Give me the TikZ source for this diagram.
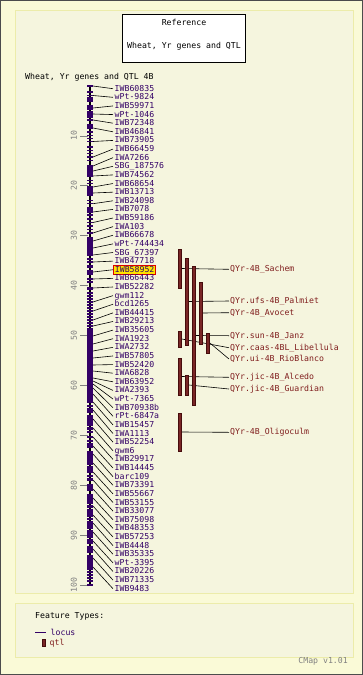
\documentclass[tikz,border=0pt]{standalone}
\usepackage{fontspec}
\setmonofont{DejaVu Sans Mono}
\usepackage{tikz}

\definecolor{pagebg}{RGB}{250,250,215}
\definecolor{panelbg}{RGB}{245,245,222}
\definecolor{panelrim}{RGB}{236,236,170}
\definecolor{locuscol}{RGB}{51,0,102}
\definecolor{qtlfill}{RGB}{122,38,38}
\definecolor{qtlrim}{RGB}{70,12,12}
\definecolor{qtltext}{RGB}{128,30,30}
\definecolor{hlfill}{RGB}{255,228,0}
\definecolor{hlrim}{RGB}{220,0,0}

\pgfdeclarelayer{bg}
\pgfsetlayers{bg,main}

\begin{document}
\begin{tikzpicture}[x=1pt, y=-1pt,
  every node/.style={font=\ttfamily\fontsize{8.2}{9}\selectfont, inner sep=1pt},
  lab/.style={anchor=west, text=locuscol, inner xsep=1.5pt, inner ysep=0.8pt,
              text height=6pt, text depth=1pt},
  hl/.style={fill=hlfill, draw=hlrim, line width=0.8pt},
  qlab/.style={anchor=west, text=qtltext, text height=6pt, text depth=1pt},
  qtlbar/.style={draw=qtlrim, fill=qtlfill, line width=0.7pt,
                 minimum width=3.5pt, inner sep=0pt},
  link/.style={black, line width=0.6pt},
  tickmark/.style={fill=locuscol},
  scaletick/.style={gray, line width=0.8pt},
  scalelab/.style={text=gray, rotate=90}
]
\useasboundingbox (0,0) rectangle (363,675);

% ── Frame and panels ──
\begin{pgfonlayer}{bg}
\draw[black!70, fill=pagebg, line width=1pt] (0.5,0.5) rectangle (362.5,674.5);
\draw[panelrim, fill=panelbg, line width=0.8pt] (15,10) rectangle (353,593);
\draw[panelrim, fill=panelbg, line width=0.8pt] (15,603) rectangle (353,657);
\end{pgfonlayer}

% ── Reference box ──
\node[draw=black, fill=white, line width=0.8pt, minimum width=123pt,
      minimum height=48pt] (refbox) at (184,38) {};
\node (reftop)  at (184,22.7) {Reference};
\node (refname) at (184,46)   {Wheat, Yr genes and QTL};

\node[anchor=west] (title) at (24,77.7) {Wheat, Yr genes and QTL 4B};

% ── Map axis and scale (0 cM at y=86, 100 cM at y=585) ──
\draw[black, line width=1.5pt] (90,86) -- (90,585);
\foreach \v in {10,20,...,100}{
  \draw[scaletick] (80,86+4.99*\v) -- (88,86+4.99*\v);
  \node[scalelab] (s\v) at (74,86+4.99*\v) {\v};
}

% ── Unlabelled marker ticks and dense blocks ──
\foreach \y in {92,101,132,135.3,138.7,147,150.3,153.7,160.5,180.3,183.7,200.3,
                215,219,226,229.5,259,282,293,296,299,305,308,314,317,323,
                406,409,412,429,432,441,444,447,476,479,485,507,510,516,519,
                525,528,531,537,540,543,556,569,572,575,578,581,585}
  \fill[tickmark] (87,\y-0.6) rectangle (93,\y+0.6);
\foreach \a/\b in {97/99.5,104.5/109.5,111/118,123.5/127,165/177,187/195.5,
                   207/212,236.5/255,265/268,270/275,286.5/290,328/403,
                   415/426,451/465,466/473,486/491,494/504,509/514,521/528,
                   533/538,546/553,559/566}
  \fill[tickmark] (87,\a) rectangle (93,\b);

% ── Loci: bar position / name, labels stacked 8.6 apart ──
\foreach \ym/\nm [count=\i] in {
  86/IWB60835, 95.5/wPt-9824, 108/IWB59971, 114/wPt-1046, 120/IWB72348,
  128/IWB46841, 141.5/IWB73905, 157/IWB66459, 166/IWA7266, 171/SBG\_187576,
  176/IWB74562, 187/IWB68654, 193/IWB13713, 203.7/IWB24098, 212/IWB7078,
  222.5/IWB59186, 233/IWA103, 241/IWB66678, 248/wPt-744434, 255/SBG\_67397,
  262/IWB47718, 272/IWB58952, 279/IWB66443, 288/IWB52282, 302/gwm112,
  311/bcd1265, 320/IWB44415, 326/IWB29213, 336/IWB35605, 344/IWA1923,
  351/IWA2732, 358/IWB57805, 365/IWB52420, 371/IWA6828, 378/IWB63952,
  381/IWA2393, 384/wPt-7365, 388/IWB70938b, 394/rPt-6847a, 402/IWB15457,
  410/IWA1113, 419/IWB52254, 428/gwm6, 437/IWB29917, 446/IWB14445,
  454/barc109, 463/IWB73391, 472/IWB55667, 480/IWB53155, 489/IWB33077,
  498/IWB75098, 506/IWB48353, 515/IWB57253, 523/IWB4448, 532/IWB35335,
  541/wPt-3395, 549/IWB20226, 558/IWB71335, 567/IWB9483}{
  \pgfmathsetmacro\ly{88.7+(\i-1)*8.621}
  \ifnum\i=22 \tikzset{cur/.style=hl}\else\tikzset{cur/.style={}}\fi
  \fill[tickmark] (87,\ym-0.6) rectangle (93,\ym+0.6);
  \coordinate (m\i) at (93,\ym);
  \node[lab, cur] (l\i) at (113,\ly) {\nm};
  \draw[link] (m\i) -- (l\i.west);
}

% ── QTL bars ──
\node[qtlbar, minimum height=39pt]  (sachem)    at (179.7,268.5) {};
\node[qtlbar, minimum height=87pt]  (palmiet)   at (186.8,301.5) {};
\node[qtlbar, minimum height=139pt] (janz)      at (193.8,335.5) {};
\node[qtlbar, minimum height=62pt]  (avocet)    at (200.8,313)   {};
\node[qtlbar, minimum height=16pt]  (libellula) at (179.7,339)   {};
\node[qtlbar, minimum height=20pt]  (rioblanco) at (207.8,343)   {};
\node[qtlbar, minimum height=37pt]  (alcedo)    at (179.7,376.5) {};
\node[qtlbar, minimum height=20pt]  (guardian)  at (186.8,385)   {};
\node[qtlbar, minimum height=38pt]  (oligoculm) at (179.7,432)   {};

% ── QTL labels ──
\node[qlab] (tsachem)    at (229,269.3) {QYr-4B\_Sachem};
\node[qlab] (tpalmiet)   at (229,301)   {QYr.ufs-4B\_Palmiet};
\node[qlab] (tavocet)    at (229,312.7) {QYr-4B\_Avocet};
\node[qlab] (tjanz)      at (229,335.7) {QYr.sun-4B\_Janz};
\node[qlab] (tlibellula) at (229,347.7) {QYr.caas-4BL\_Libellula};
\node[qlab] (trioblanco) at (229,359)   {QYr.ui-4B\_RioBlanco};
\node[qlab] (talcedo)    at (229,377.3) {QYr.jic-4B\_Alcedo};
\node[qlab] (tguardian)  at (229,389)   {QYr.jic-4B\_Guardian};
\node[qlab] (toligoculm) at (229,432.3) {QYr-4B\_Oligoculm};

% ── QTL connectors, kept behind the bars ──
\begin{pgfonlayer}{bg}
\draw[link] (sachem.east)    -- (tsachem.west);
\draw[link] (palmiet.east)   -- (tpalmiet.west);
\draw[link] (avocet.east)    -- (tavocet.west);
\draw[link] (janz.east)      -- (tjanz.west);
\draw[link] (libellula.east) -- (tlibellula.west);
\draw[link] (rioblanco.east) -- (trioblanco.west);
\draw[link] (alcedo.east)    -- (talcedo.west);
\draw[link] (guardian.east)  -- (tguardian.west);
\draw[link] (oligoculm.east) -- (toligoculm.west);
\end{pgfonlayer}

% ── Legend ──
\node[anchor=west] (ftitle) at (34,616) {Feature Types:};
\draw[locuscol, line width=0.9pt] (35,632) -- (46,632);
\node[anchor=west, text=locuscol] (flocus) at (49.5,632) {locus};
\node[qtlbar, minimum height=7.5pt] (fqtl) at (44,643) {};
\node[anchor=west, text=qtltext] (fqtltext) at (48.5,643) {qtl};
\node[anchor=east, text=gray] (cmap) at (349,661.5) {CMap v1.01};

\end{tikzpicture}
\end{document}
